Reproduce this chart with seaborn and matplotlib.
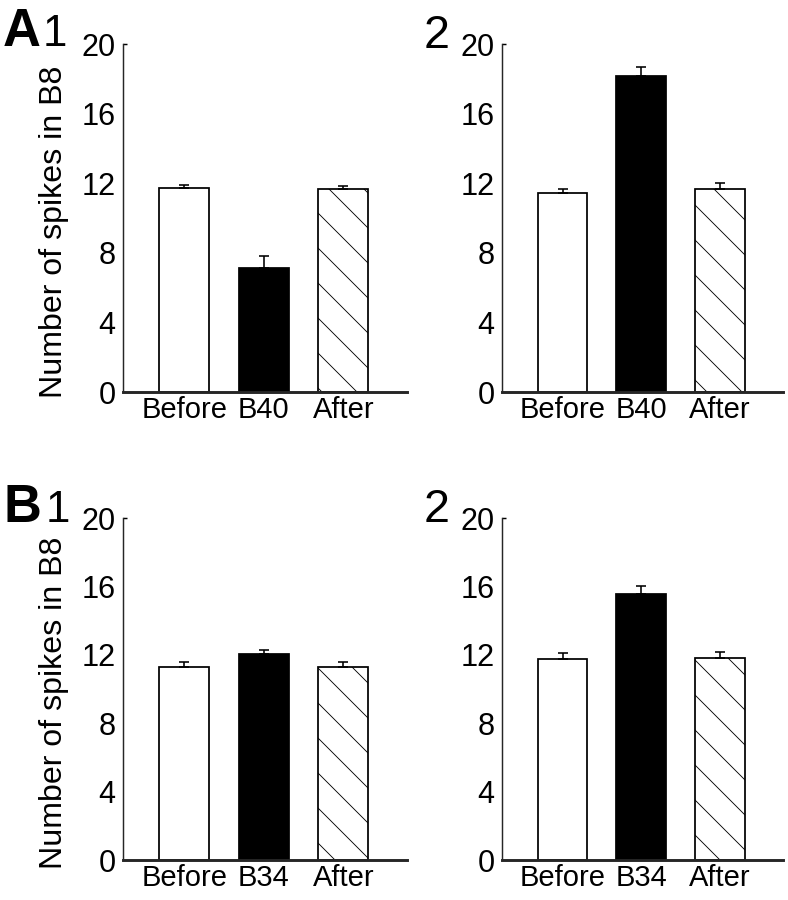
import numpy as np
import pandas as pd
import seaborn as sns
import matplotlib
matplotlib.use('Agg')
from matplotlib import pyplot as plt

# values (mean and upper error bar)
cats_a = ['Before', 'B40', 'After']
cats_b = ['Before', 'B34', 'After']
a1_mean = [11.74, 7.12, 11.68]
a1_err = [0.15, 0.68, 0.16]
a2_mean = [11.43, 18.17, 11.66]
a2_err = [0.23, 0.50, 0.35]
b1_mean = [11.31, 12.02, 11.31]
b1_err = [0.29, 0.25, 0.29]
b2_mean = [11.74, 15.58, 11.82]
b2_err = [0.39, 0.45, 0.37]
y_ticks = [0, 4, 8, 12, 16, 20]

sns.set_style('ticks')
plt.rcParams['font.family'] = ['Liberation Sans', 'DejaVu Sans']
plt.rcParams['hatch.linewidth'] = 0.3
plt.rcParams['text.color'] = 'black'
plt.rcParams['axes.labelcolor'] = 'black'
plt.rcParams['xtick.color'] = 'black'
plt.rcParams['ytick.color'] = 'black'

DPI = 210
fig = plt.figure(figsize=(788 / DPI, 900 / DPI), dpi=DPI)

panels = [
    ([0.156, 0.5644, 0.3604, 0.3867], cats_a, a1_mean, a1_err, True),
    ([0.637, 0.5644, 0.3566, 0.3867], cats_a, a2_mean, a2_err, False),
    ([0.156, 0.0444, 0.3604, 0.3800], cats_b, b1_mean, b1_err, True),
    ([0.637, 0.0444, 0.3566, 0.3800], cats_b, b2_mean, b2_err, False),
]

for rect, cats, means, errs, show_ylabel in panels:
    ax = fig.add_axes(rect)
    df = pd.DataFrame({'cond': cats, 'spikes': means})
    sns.barplot(data=df, x='cond', y='spikes', hue='cond', order=cats,
                palette=['white', 'black', 'white'], legend=False,
                width=0.63, edgecolor='black', linewidth=0.6, ax=ax)
    ax.patches[2].set_hatch('\\\\')
    ax.errorbar(np.arange(len(cats)), means,
                yerr=[np.zeros(len(errs)), errs],
                fmt='none', ecolor='black', elinewidth=0.55,
                capsize=1.7, capthick=0.55, zorder=1)
    ax.set_xlim(-0.77, 2.8)
    ax.set_ylim(0, 20)
    ax.set_yticks(y_ticks)
    ax.set_xlabel('')
    sns.despine(ax=ax)
    ax.spines['left'].set_linewidth(0.5)
    ax.spines['bottom'].set_linewidth(1.0)
    ax.tick_params(axis='both', length=0)
    ax.tick_params(axis='y', pad=2.5, direction='in', labelsize=10.5)
    ax.tick_params(axis='x', pad=1.5, labelsize=10)
    top = ax.yaxis.get_major_ticks()[-1]
    top.tick1line.set_markersize(1.4)
    top.tick1line.set_markeredgewidth(0.5)
    if show_ylabel:
        ax.set_ylabel('Number of spikes in B8', fontsize=11)
        ax.yaxis.set_label_coords(-0.19, 0.46)
    else:
        ax.set_ylabel('')

# panel labels
fig.text(0.004, 0.949, 'A', fontsize=18, fontweight='bold', va='baseline')
fig.text(0.054, 0.949, '1', fontsize=15, va='baseline')
fig.text(0.537, 0.947, '2', fontsize=16, va='baseline')
fig.text(0.004, 0.42, 'B', fontsize=18, fontweight='bold', va='baseline')
fig.text(0.058, 0.42, '1', fontsize=15, va='baseline')
fig.text(0.537, 0.42, '2', fontsize=16, va='baseline')

fig.savefig('out.png', dpi=DPI, facecolor='white')
